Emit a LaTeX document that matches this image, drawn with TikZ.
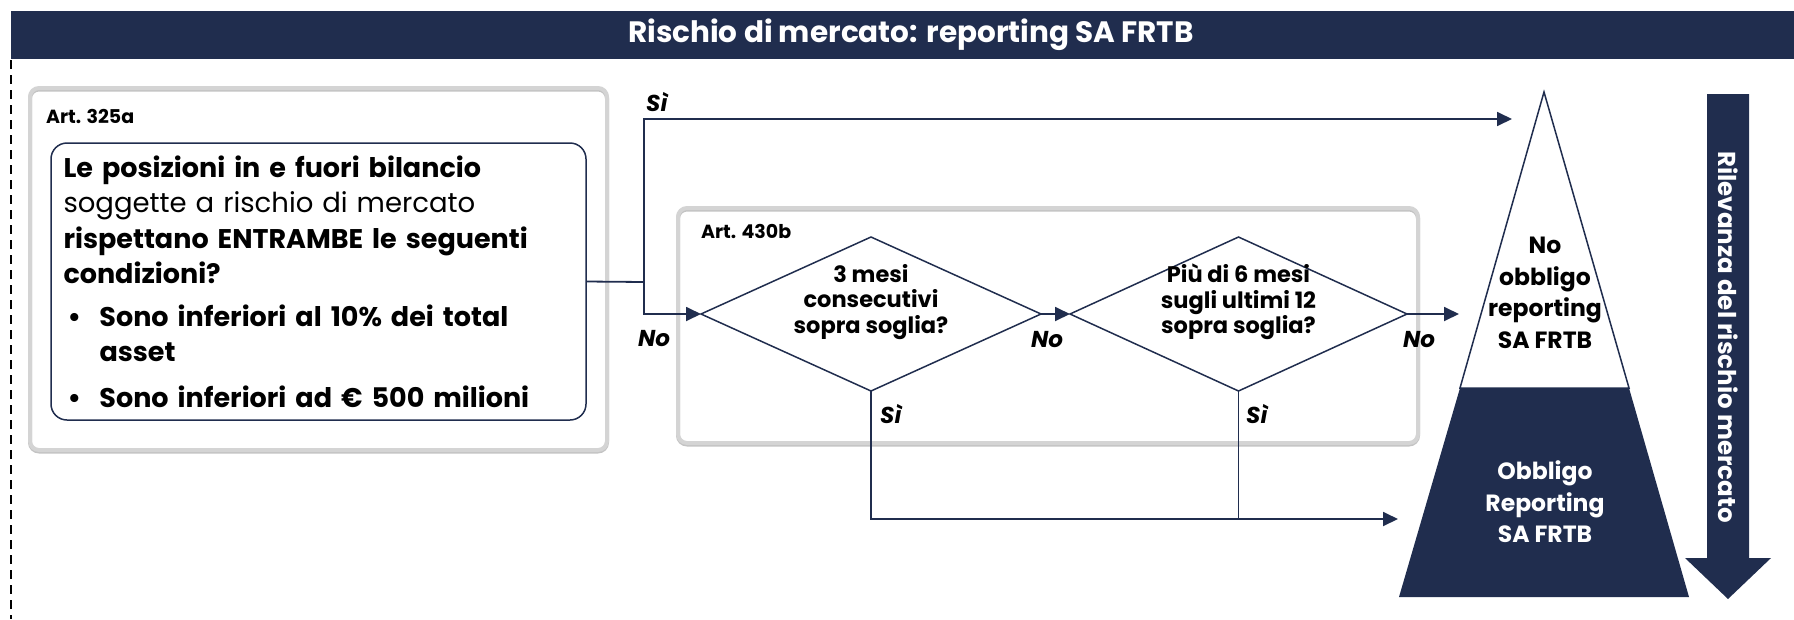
\documentclass[tikz,border=0pt]{standalone}
\usepackage{fontspec}
\setmainfont{Poppins}
\usetikzlibrary{arrows.meta,shapes.geometric}
\definecolor{navy}{RGB}{32,45,78}
\definecolor{boxgray}{RGB}{212,212,212}
\definecolor{shadowgray}{RGB}{195,195,195}
\begin{document}
\begin{tikzpicture}[x=1pt,y=-1pt,
  every node/.style={inner sep=0pt, outer sep=0pt},
  conn/.style={draw=navy, line width=1.8pt},
  arr/.style={conn, -{Triangle[length=15pt,width=14pt]}},
  lab/.style={font=\fontsize{23}{26}\selectfont\bfseries\itshape, text=black},
  art/.style={font=\fontsize{19}{22}\selectfont\bfseries, anchor=west},
  graybox/.style={draw=boxgray, line width=4pt, rounded corners=9pt,
     preaction={draw=shadowgray, line width=4pt, transform canvas={yshift=-1.5pt}}},
  qbox/.style={draw=navy, line width=1.5pt, rounded corners=16pt},
  dia/.style={diamond, draw=navy, line width=1.5pt, aspect=2.2, minimum width=340pt, minimum height=154pt},
  dtext/.style={align=center, font=\fontsize{22.5}{25.5}\selectfont\bfseries},
  ptext/.style={align=center, font=\fontsize{23.5}{31.5}\selectfont\bfseries},
]
\useasboundingbox (0,0) rectangle (1794,619);

% header
\node[fill=navy, anchor=north west, minimum width=1783pt, minimum height=48pt] (head) at (11,11) {};
\node[font=\fontsize{29.5}{32}\selectfont\bfseries, text=white] (title) at (911,35) {Rischio di mercato: reporting SA FRTB};

% dashed left line
\draw[black, line width=2.2pt, dash pattern=on 9pt off 6pt] (11,60) -- (11,619);

% gray boxes
\node[graybox, anchor=north west, minimum width=577pt, minimum height=362pt] (g1) at (30,88) {};
\node[art] (a1) at (46,116) {Art. 325a};
\node[graybox, anchor=north west, minimum width=740pt, minimum height=235pt] (g2) at (678,208) {};
\node[art] (a2) at (701,231) {Art. 430b};

% question box
\node[qbox, anchor=north west, minimum width=535pt, minimum height=277pt, text width=510pt,
      inner xsep=12.5pt, align=left, font=\fontsize{27}{35.5}\selectfont\bfseries] (q) at (51,143) {%
Le posizioni in e fuori bilancio\\
{\fontsize{27.5}{35.5}\selectfont\mdseries soggette a rischio di mercato}\\
rispettano ENTRAMBE le seguenti\\
condizioni?\\[7pt]
\makebox[36pt][l]{\hspace{4pt}\textbullet}Sono inferiori al 10\% dei total\\
\hspace*{36pt}asset\\[10pt]
\makebox[36pt][l]{\hspace{4pt}\textbullet}Sono inferiori ad € 500 milioni};

% diamonds
\node[dia] (d1) at (871,314) {};
\node[dtext] (t1) at (871,302) {3 mesi\\consecutivi\\sopra soglia?};
\node[dia, minimum width=337pt] (d2) at (1238.5,314) {};
\node[dtext] (t2) at (1238.5,302) {Più di 6 mesi\\sugli ultimi 12\\sopra soglia?};

% pyramid
\coordinate (apex) at (1544,92);
\coordinate (bl) at (1399,597);
\coordinate (br) at (1689,597);
\coordinate (ml) at (1460,388);
\coordinate (mr) at (1629,388);
\fill[navy] (ml) -- (mr) -- (br) -- (bl) -- cycle;
\draw[navy, line width=1.5pt, fill=white, line join=miter] (apex) -- (mr) -- (ml) -- cycle;
\node[ptext] (pno) at (1545,293) {No\\obbligo\\reporting\\SA FRTB};
\node[ptext, text=white] (pyes) at (1545,502) {Obbligo\\Reporting\\SA FRTB};

% big arrow
\fill[navy] (1707,94) -- (1749,94) -- (1749,558) -- (1771,558) -- (1728,599) -- (1685,558) -- (1707,558) -- cycle;
\node[rotate=-90, text=white, font=\fontsize{24.5}{27}\selectfont\bfseries] (rtext) at (1728,337) {Rilevanza del rischio mercato};

% connectors
\coordinate (j) at (644,282);
\coordinate (topTip) at (1512,119);
\coordinate (noTip) at (1459,314);
\coordinate (botTip) at (1398,519);
\draw[conn] (q.east) -- (j);
\draw[arr] (j) |- (topTip);
\draw[arr] (j) |- (d1.west);
\draw[arr] (d1.east) -- (d2.west);
\draw[arr] (d2.east) -- (noTip);
\draw[arr] (d1.south) |- (botTip);
\draw[conn] (d2.south) -- (d2.south |- botTip);

% labels
\node[lab] (si1) at (657,102) {Sì};
\node[lab] (no1) at (654,339) {No};
\node[lab] (no2) at (1047,340) {No};
\node[lab] (no3) at (1419,340) {No};
\node[lab] (si2) at (891,414) {Sì};
\node[lab] (si3) at (1257,414) {Sì};
\end{tikzpicture}
\end{document}
